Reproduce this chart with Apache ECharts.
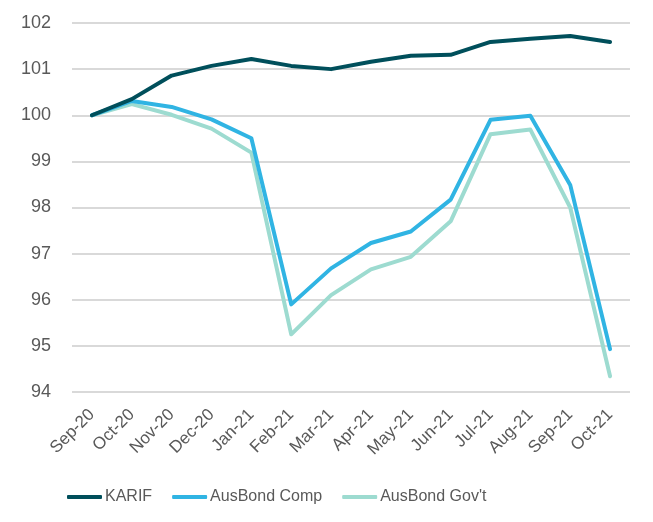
<!DOCTYPE html>
<html><head><meta charset="utf-8">
<script src="https://cdn.jsdelivr.net/npm/echarts@6/dist/echarts.min.js"></script>
<style>html,body{margin:0;padding:0;background:#fff}#c{width:653px;height:522px}</style>
</head><body><div id="c"></div>
<script>
const categories = ['Sep-20','Oct-20','Nov-20','Dec-20','Jan-21','Feb-21','Mar-21','Apr-21','May-21','Jun-21','Jul-21','Aug-21','Sep-21','Oct-21'];
const karif = [100, 100.35, 100.86, 101.07, 101.22, 101.07, 101.0, 101.16, 101.29, 101.31, 101.59, 101.66, 101.72, 101.59];
const ausComp = [100, 100.31, 100.18, 99.91, 99.5, 95.9, 96.68, 97.23, 97.48, 98.17, 99.9, 99.99, 98.49, 94.93];
const ausGov = [100, 100.24, 100.01, 99.71, 99.19, 95.25, 96.1, 96.66, 96.93, 97.7, 99.59, 99.69, 98.0, 94.34];
const yTicks = {min: 94, max: 102, interval: 1};

const chart = echarts.init(document.getElementById('c'));
const font = 'Liberation Sans, Arial, sans-serif';
function ser(name, data, color){
  return {name, type:'line', data, symbol:'none', smooth:false,
    lineStyle:{color, width:4, cap:'round', join:'round'}, itemStyle:{color}};
}
chart.setOption({
  animation:false,
  grid:{left:72, right:23, top:23, bottom:130},
  legend:{top:484, left:62, itemWidth:35, itemHeight:4, itemGap:20,
    textStyle:{color:'#595959', fontSize:16, fontFamily:font, padding:[0,0,0,-2]},
    icon:'roundRect',
    data:['KARIF','AusBond Comp',"AusBond Gov't"]},
  xAxis:{type:'category', data:categories, boundaryGap:true,
    axisLine:{show:false}, axisTick:{show:false},
    axisLabel:{rotate:45, color:'#595959', fontSize:17, fontFamily:font, margin:20, interval:0}},
  yAxis:{type:'value', min:yTicks.min, max:yTicks.max, interval:yTicks.interval,
    axisLine:{show:false}, axisTick:{show:false},
    axisLabel:{color:'#595959', fontSize:18, fontFamily:font, margin:21},
    splitLine:{lineStyle:{color:'#d9d9d9', width:2}}},
  series:[ser("AusBond Gov't", ausGov, '#9ddbd0'), ser('AusBond Comp', ausComp, '#30b4e3'), ser('KARIF', karif, '#004f5b')]
});
</script></body></html>
